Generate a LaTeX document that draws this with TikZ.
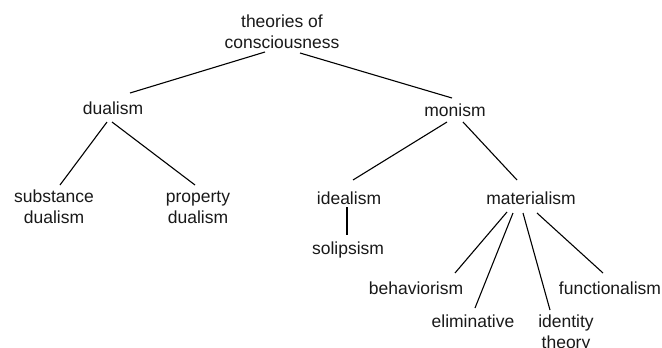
\documentclass[tikz,border=0pt]{standalone}
\usepackage{fontspec}
\setmainfont{Liberation Sans}
\usepackage{tikz}
\usetikzlibrary{calc,positioning}

\tikzset{term/.style={align=center, inner sep=0pt, text=black!90, font=\fontsize{17.5}{21}\selectfont}}

\begin{document}
\begin{tikzpicture}[x=1pt,y=-1pt,line width=1.1pt]
\useasboundingbox (0,0) rectangle (662,348);
\node[term] (theo) at (282,32) {theories of\\consciousness};
\node[term] (dual) at (113,108) {dualism};
\node[term] (mon) at (455,110) {monism};
\node[term] (subst) at (54,207) {substance\\dualism};
\node[term] (prop) at (198,207) {property\\dualism};
\node[term] (ideal) at (349,198) {idealism};
\node[term] (mat) at (531,198) {materialism};
\node[term] (sol) at (348,250) {solipsism};
\node[term] (beh) at (416,288) {behaviorism};
\node[term] (elim) at (473,321) {eliminative};
\node[term] (ident) at (566,333) {identity\\theory};
\node[term] (func) at (610,288) {functionalism};
\draw[-] ($(theo)+(-17,20)$) to ($(dual)+(17,-15)$); %top
\draw[-] ($(theo)+(18,21)$) to ($(mon)+(-3,-12)$);
\draw[-] ($(dual)+(-6,14)$) to ($(subst)+(6,-22)$); %dualism
\draw[-] ($(dual)+(-1,14)$) to ($(prop)+(-3,-22)$);
\draw[-] ($(mon)+(-8,12)$) to ($(ideal)+(4,-18)$); %monism
\draw[-] ($(mon)+(8,12)$) to ($(mat)+(-14,-18)$);
\draw[-] ($(ideal)+(-2,9)$) to ($(sol)+(-1,-15)$); %idealism
\draw[-] ($(mat)+(-24,14)$) to ($(beh)+(39,-15)$); %materialism
\draw[-] ($(mat)+(-18,15)$) to ($(elim)+(2,-13)$);
\draw[-] ($(mat)+(-8,15)$) to ($(ident)+(-16,-23)$);
\draw[-] ($(mat)+(6,15)$) to ($(func)+(-7,-15)$);
\end{tikzpicture}
\end{document}
